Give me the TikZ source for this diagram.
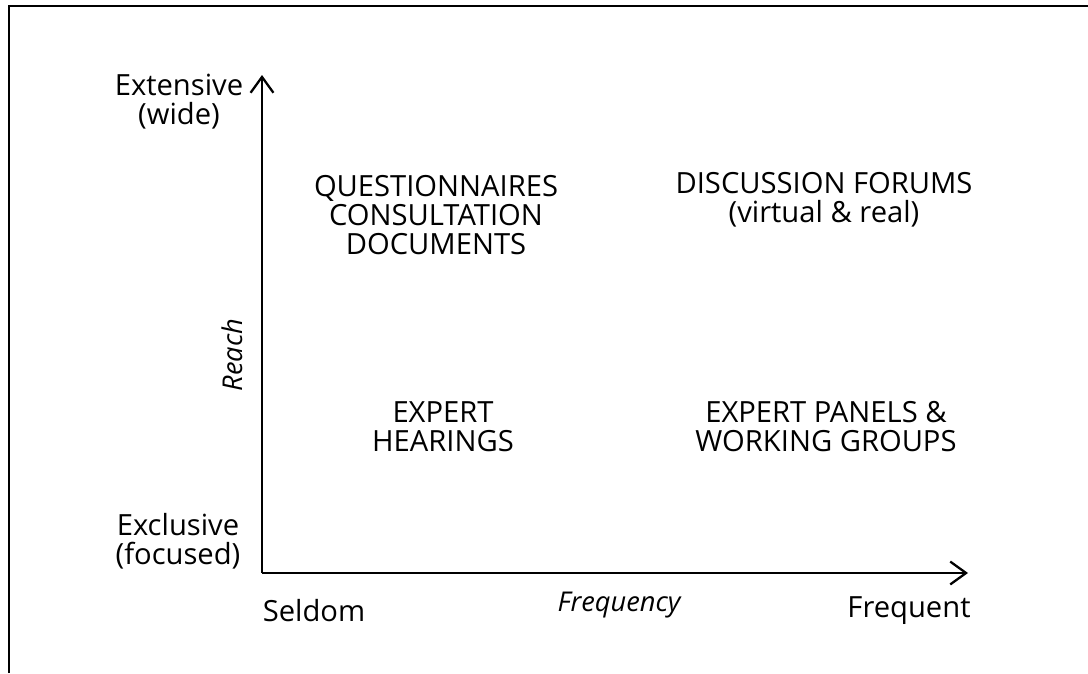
\documentclass[tikz,border=0pt]{standalone}
\usepackage{fontspec}
\setmainfont{Open Sans}
\usepackage{tikz}
\usetikzlibrary{arrows.meta}

\begin{document}
\begin{tikzpicture}[x=0.02cm, y=-0.02cm,
    lbl/.style={font=\fontsize{16.6}{16.5}\selectfont, align=center, inner sep=0pt},
    axlbl/.style={font=\fontsize{15.5}{16}\selectfont\itshape, inner sep=0pt},
    axis/.style={line width=1.1pt, -{Straight Barb[length=9pt, width=13pt, line width=1.3pt]}}]
    \useasboundingbox (0,0) rectangle (1088,673);

    % frame
    \draw[line width=1.1pt] (9,673) -- (9,6) -- (1088,6);

    % axes
    \coordinate (origin) at (262,573);
    \coordinate (ytop) at (262,75);
    \coordinate (xend) at (968,573);
    \draw[axis] (origin) -- (ytop);
    \draw[axis] (origin) -- (xend);

    % reach labels
    \node[lbl] (wide) at (179,102) {Extensive\\(wide)};
    \node[lbl] (focused) at (178,541) {Exclusive\\(focused)};
    \node[axlbl, rotate=90] (reach) at (232,355) {Reach};

    % frequency labels
    \node[lbl] (seldom) at (314,611) {Seldom};
    \node[axlbl] (frequency) at (619,605) {Frequency};
    \node[lbl] (frequent) at (909,611) {Frequent};

    % quadrants
    \node[lbl] (quest) at (436,215) {QUESTIONNAIRES\\CONSULTATION\\DOCUMENTS};
    \node[lbl] (forums) at (824,200) {DISCUSSION FORUMS\\(virtual \& real)};
    \node[lbl] (hearings) at (443,427) {EXPERT\\HEARINGS};
    \node[lbl] (panels) at (826,427) {EXPERT PANELS \&\\WORKING GROUPS};
\end{tikzpicture}
\end{document}
